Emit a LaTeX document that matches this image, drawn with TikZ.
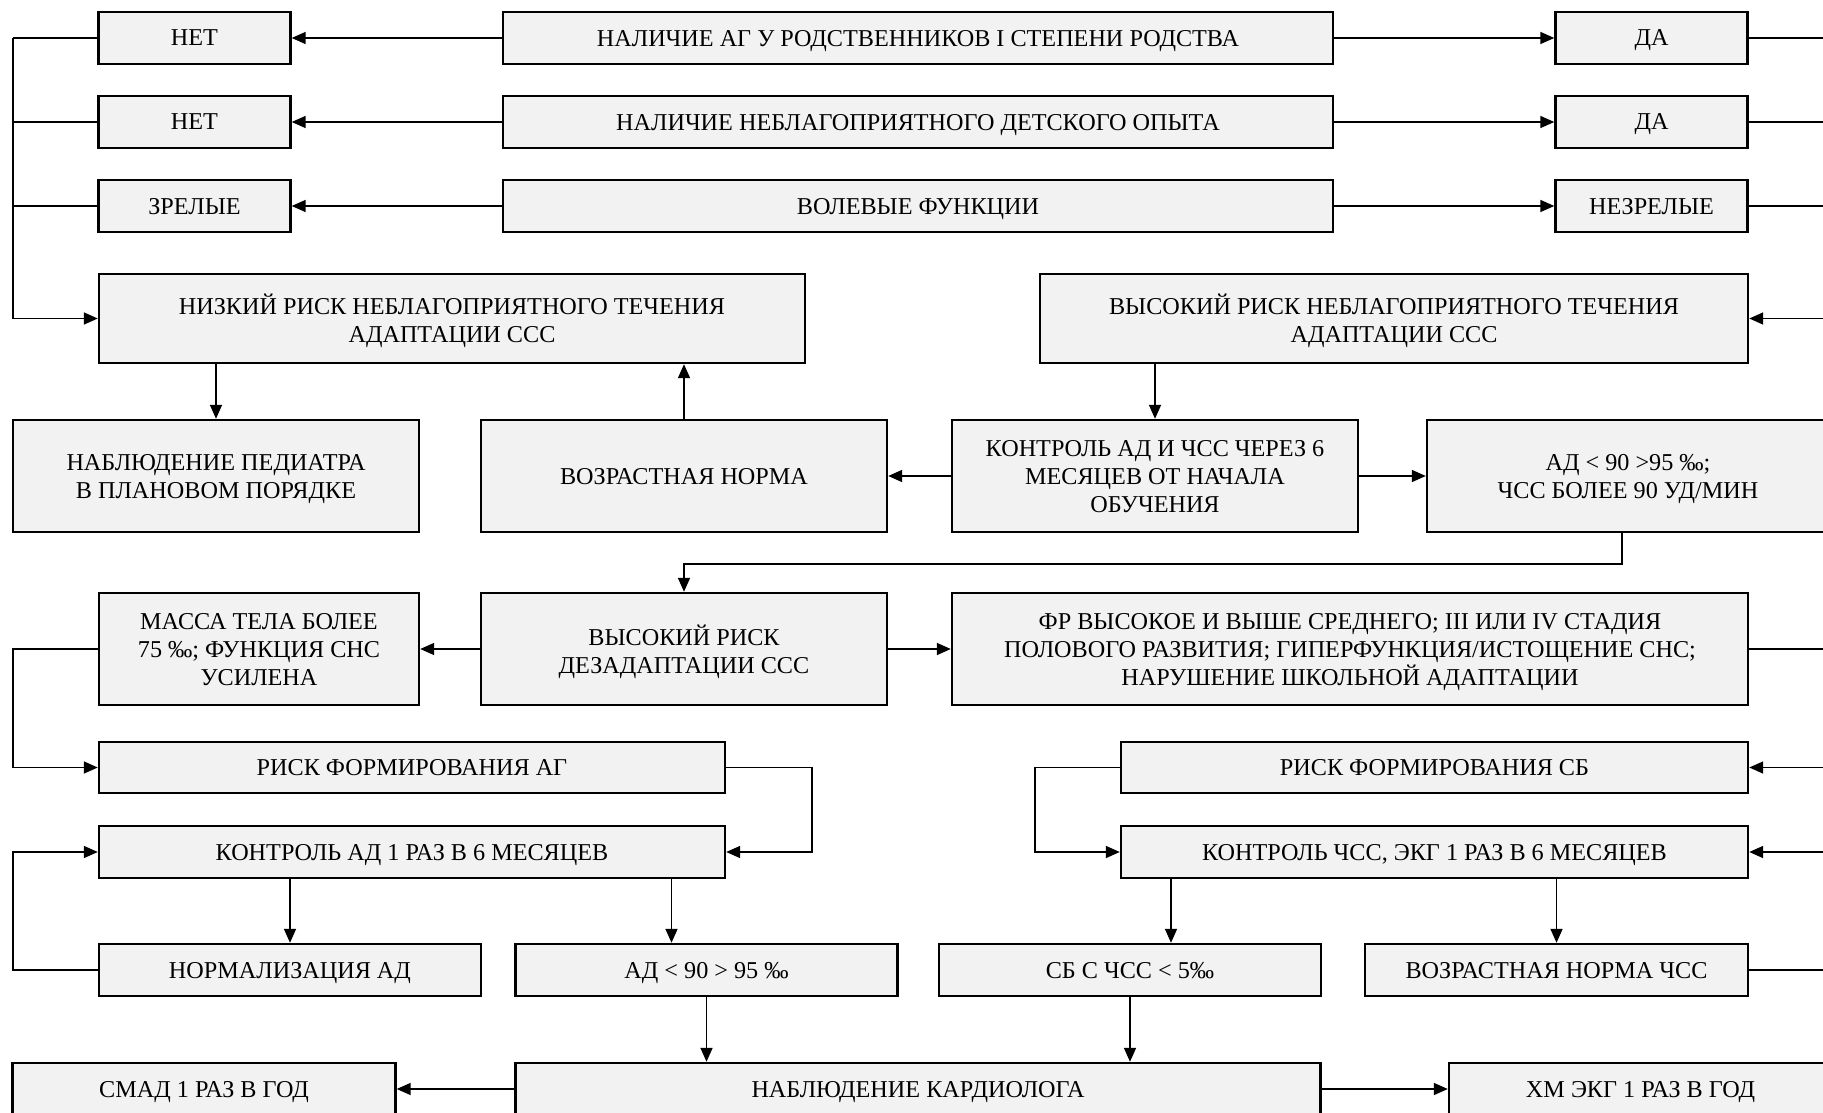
\documentclass[tikz,border=0pt]{standalone}
\usepackage{fontspec}
\setmainfont{Liberation Serif}
\usetikzlibrary{arrows.meta,calc}
\definecolor{boxfill}{HTML}{F2F2F2}
\begin{document}
\begin{tikzpicture}[x=.5pt,y=-.5pt,
  box/.style={draw,fill=boxfill,line width=1.2pt,align=center,inner sep=0pt,text depth=0pt,font=\fontsize{12.1}{14}\selectfont},
  arr/.style={line width=.8pt,-{Triangle[length=7pt,width=6pt]}},
  ln/.style={line width=.8pt}]
  \useasboundingbox (0,0) rectangle (1823,1112); \clip (0,0) rectangle (1823,1112);
  \coordinate (lbus) at (13,0); \coordinate (rbus) at (1850,0); \coordinate (rbusb) at (1870,0);
  % questions
  \node[box,minimum width=96pt,minimum height=26pt] (net1) at (194.5,38) {НЕТ};
  \node[box,minimum width=415pt,minimum height=26pt] (q1) at (918,38) {НАЛИЧИЕ АГ У РОДСТВЕННИКОВ I СТЕПЕНИ РОДСТВА};
  \node[box,minimum width=96pt,minimum height=26pt] (da1) at (1651.5,38) {ДА};
  \node[box,minimum width=96pt,minimum height=26pt] (net2) at (194.5,122) {НЕТ};
  \node[box,minimum width=415pt,minimum height=26pt] (q2) at (918,122) {НАЛИЧИЕ НЕБЛАГОПРИЯТНОГО ДЕТСКОГО ОПЫТА};
  \node[box,minimum width=96pt,minimum height=26pt] (da2) at (1651.5,122) {ДА};
  \node[box,minimum width=96pt,minimum height=26pt] (zrel) at (194.5,206) {ЗРЕЛЫЕ};
  \node[box,minimum width=415pt,minimum height=26pt] (q3) at (918,206) {ВОЛЕВЫЕ ФУНКЦИИ};
  \node[box,minimum width=96pt,minimum height=26pt] (nezrel) at (1651.5,206) {НЕЗРЕЛЫЕ};
  % risk
  \node[box,minimum width=353pt,minimum height=44.5pt] (low) at (452,318.5) {НИЗКИЙ РИСК НЕБЛАГОПРИЯТНОГО ТЕЧЕНИЯ\\АДАПТАЦИИ ССС};
  \node[box,minimum width=354pt,minimum height=44.5pt] (high) at (1394,318.5) {ВЫСОКИЙ РИСК НЕБЛАГОПРИЯТНОГО ТЕЧЕНИЯ\\АДАПТАЦИИ ССС};
  \node[box,minimum width=203pt,minimum height=56pt] (ped) at (216,476) {НАБЛЮДЕНИЕ ПЕДИАТРА\\В ПЛАНОВОМ ПОРЯДКЕ};
  \node[box,minimum width=203pt,minimum height=56pt] (norm) at (684,476) {ВОЗРАСТНАЯ НОРМА};
  \node[box,minimum width=203pt,minimum height=56pt] (ctrl) at (1155,476) {КОНТРОЛЬ АД И ЧСС ЧЕРЕЗ 6\\МЕСЯЦЕВ ОТ НАЧАЛА\\ОБУЧЕНИЯ};
  \node[box,minimum width=201pt,minimum height=56pt] (bp) at (1628,476) {АД < 90 >95 ‰;\\ЧСС БОЛЕЕ 90 УД/МИН};
  \node[box,minimum width=160pt,minimum height=56pt] (mass) at (259,649) {МАССА ТЕЛА БОЛЕЕ\\75 ‰; ФУНКЦИЯ СНС\\УСИЛЕНА};
  \node[box,minimum width=203pt,minimum height=56pt] (dez) at (684,649) {ВЫСОКИЙ РИСК\\ДЕЗАДАПТАЦИИ ССС};
  \node[box,minimum width=398pt,minimum height=56pt] (fr) at (1350,649) {ФР ВЫСОКОЕ И ВЫШЕ СРЕДНЕГО; III ИЛИ IV СТАДИЯ\\ПОЛОВОГО РАЗВИТИЯ; ГИПЕРФУНКЦИЯ/ИСТОЩЕНИЕ СНС;\\НАРУШЕНИЕ ШКОЛЬНОЙ АДАПТАЦИИ};
  % control
  \node[box,minimum width=313pt,minimum height=25.5pt] (riskag) at (412,767.5) {РИСК ФОРМИРОВАНИЯ АГ};
  \node[box,minimum width=313.5pt,minimum height=25.5pt] (risksb) at (1434.5,767.5) {РИСК ФОРМИРОВАНИЯ СБ};
  \node[box,minimum width=313pt,minimum height=26pt] (ctrlag) at (412,852) {КОНТРОЛЬ АД 1 РАЗ В 6 МЕСЯЦЕВ};
  \node[box,minimum width=313.5pt,minimum height=26pt] (ctrlsb) at (1434.5,852) {КОНТРОЛЬ ЧСС, ЭКГ 1 РАЗ В 6 МЕСЯЦЕВ};
  \node[box,minimum width=191pt,minimum height=26pt] (normad) at (290,970) {НОРМАЛИЗАЦИЯ АД};
  \node[box,minimum width=191pt,minimum height=26pt] (adlim) at (706.5,970) {АД < 90 > 95 ‰};
  \node[box,minimum width=191pt,minimum height=26pt] (sbchss) at (1130,970) {СБ С ЧСС < 5‰};
  \node[box,minimum width=191.5pt,minimum height=26pt] (normchss) at (1556.5,970) {ВОЗРАСТНАЯ НОРМА ЧСС};
  \node[box,minimum width=191.5pt,minimum height=26pt] (smad) at (204,1089) {СМАД 1 РАЗ В ГОД};
  \node[box,minimum width=402.5pt,minimum height=26pt] (card) at (918,1089) {НАБЛЮДЕНИЕ КАРДИОЛОГА};
  \node[box,minimum width=191.5pt,minimum height=26pt] (hm) at (1640.5,1089) {ХМ ЭКГ 1 РАЗ В ГОД};
  \coordinate (adin) at ($(adlim.north)+(-35,0)$); \coordinate (sbin) at ($(sbchss.north)+(41,0)$);
  \coordinate (bpout) at ($(bp.south)+(-6,0)$);
  % connectors
  \foreach \a/\q/\b in {net1/q1/da1,net2/q2/da2,zrel/q3/nezrel}{
    \draw[arr] (\q) -- (\a); \draw[arr] (\q) -- (\b);
    \draw[ln] (\a.west) -- (\a.west -| lbus); \draw[ln] (\b.east) -- (\b.east -| rbus);}
  \draw[arr] (net1.west -| lbus) |- (low); \draw[arr] (da1.east -| rbus) |- (high);
  \draw[arr] (low.south -| ped) -- (ped); \draw[arr] (norm) -- (norm |- low.south);
  \draw[arr] (high.south -| ctrl) -- (ctrl);
  \draw[arr] (ctrl) -- (norm); \draw[arr] (ctrl) -- (bp);
  \draw[arr] (bpout) -- ++(0,31) -| (dez);
  \draw[arr] (dez) -- (mass); \draw[arr] (dez) -- (fr);
  \draw[arr] (mass.west) -- (mass.west -| lbus) |- (riskag);
  \draw[arr] (fr.east) -- (fr.east -| rbus) |- (risksb);
  \draw[arr] (riskag.east) -- ++(86,0) |- (ctrlag);
  \draw[arr] (risksb.west) -- ++(-85,0) |- (ctrlsb);
  \draw[arr] (normad.west) -- (normad.west -| lbus) |- (ctrlag);
  \draw[arr] (normchss.east) -- (normchss.east -| rbusb) |- (ctrlsb);
  \draw[arr] (ctrlag.south -| normad) -- (normad); \draw[arr] (adin |- ctrlag.south) -- (adin);
  \draw[arr] (sbin |- ctrlsb.south) -- (sbin); \draw[arr] (ctrlsb.south -| normchss) -- (normchss);
  \draw[arr] (adlim.south) -- (adlim.south |- card.north); \draw[arr] (sbchss.south) -- (sbchss.south |- card.north);
  \draw[arr] (card) -- (smad); \draw[arr] (card) -- (hm);
\end{tikzpicture}
\end{document}
